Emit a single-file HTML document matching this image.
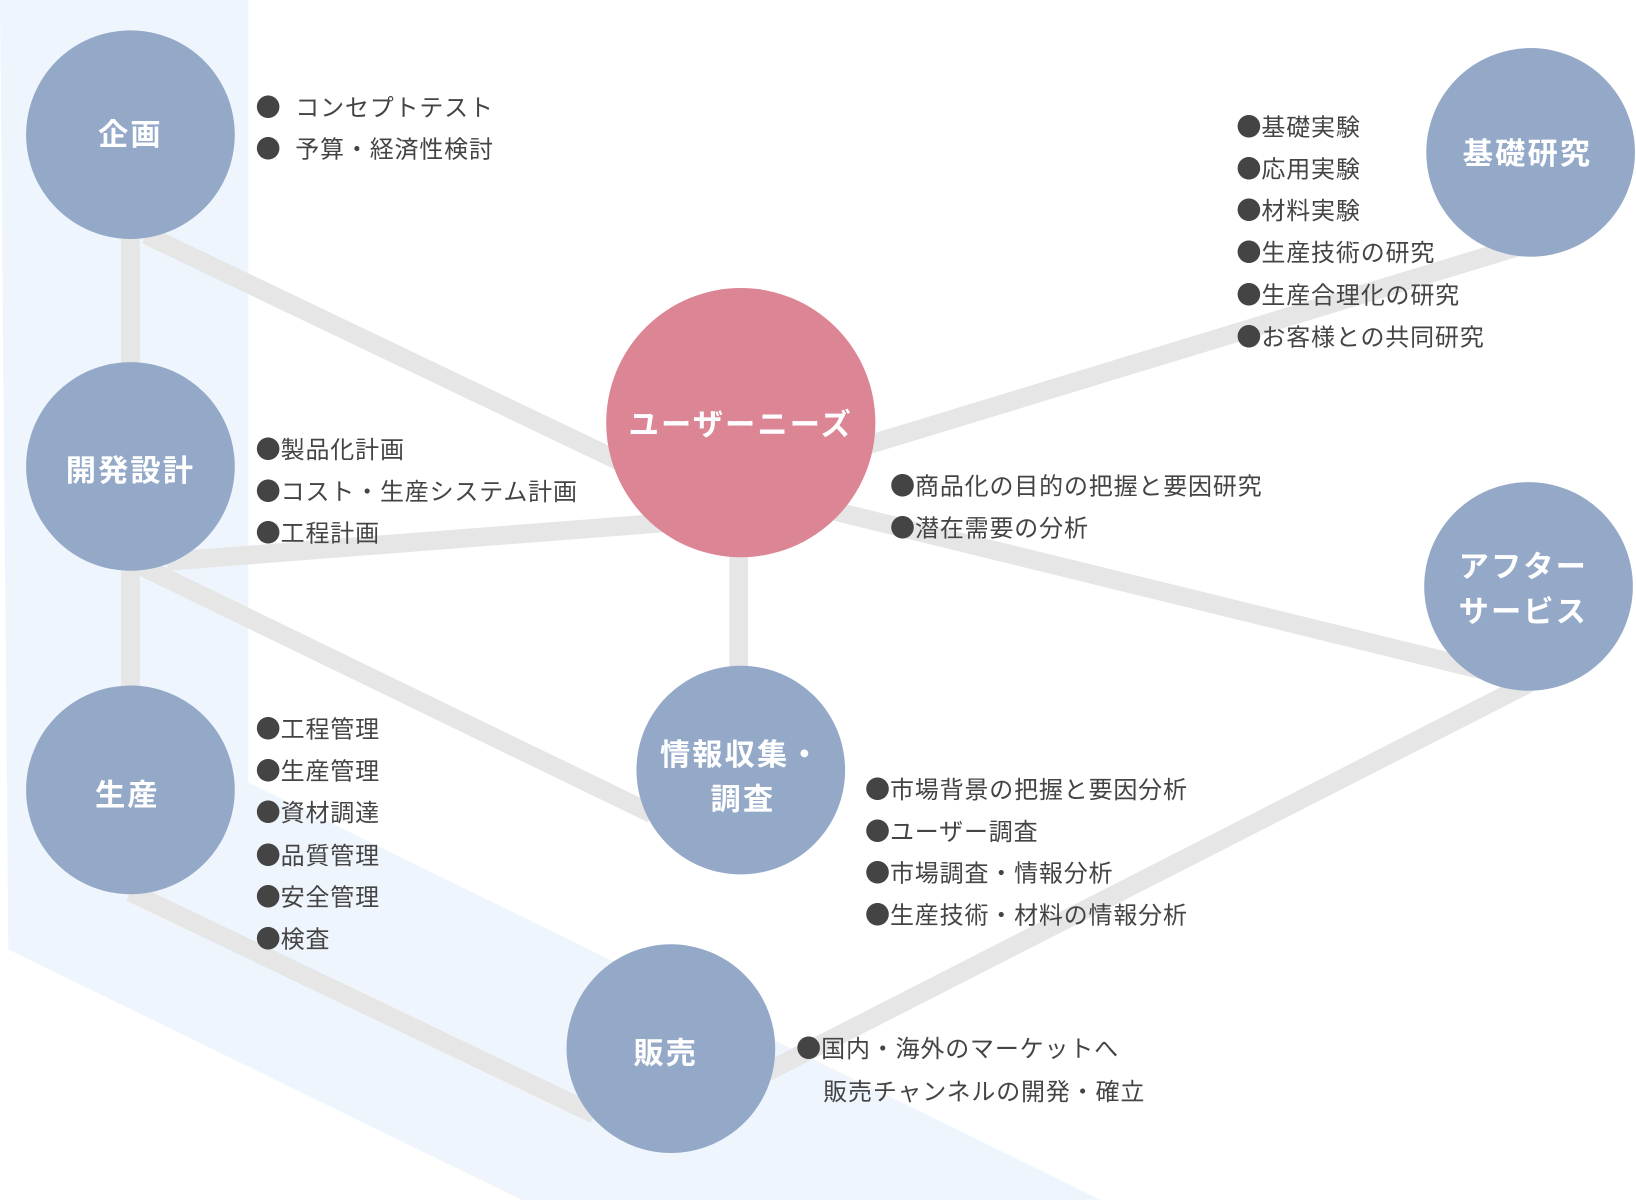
<!DOCTYPE html>
<html><head><meta charset="utf-8"><style>
html,body{margin:0;padding:0;background:#fff;}
svg{display:block}
.t{font-family:"Liberation Sans","Noto Sans CJK JP",sans-serif;font-size:23px;fill:#444;letter-spacing:0.8px;}
.t tspan.b{font-family:"Noto Sans CJK JP",sans-serif;font-size:24px;letter-spacing:0;}
.c{font-family:"Liberation Sans","Noto Sans CJK JP",sans-serif;font-size:29px;font-weight:bold;fill:#fff;letter-spacing:2px;}
</style></head><body>
<svg width="1636" height="1200" viewBox="0 0 1568 1150" xmlns="http://www.w3.org/2000/svg">
<polygon points="0,0 238,0 238,750 1055,1150 500,1150 8,910" fill="#eff5fc"/>
<g stroke="#e6e6e6" stroke-width="18" fill="none">
<line x1="125" y1="129" x2="125" y2="757"/>
<line x1="140" y1="225" x2="600" y2="445"/>
<line x1="160" y1="538" x2="650" y2="500"/>
<line x1="130" y1="540" x2="625" y2="780"/>
<line x1="125" y1="855" x2="570" y2="1068"/>
<line x1="708" y1="405" x2="708" y2="738"/>
<line x1="820" y1="430" x2="1460" y2="235"/>
<line x1="780" y1="485" x2="1420" y2="642"/>
<line x1="720" y1="1035" x2="1465" y2="655"/>
</g>
<g fill="#94a9c8">
<circle cx="125" cy="129" r="100"/>
<circle cx="125" cy="447" r="100"/>
<circle cx="125" cy="757" r="100"/>
<circle cx="643" cy="1005" r="100"/>
<circle cx="710" cy="738" r="100"/>
<circle cx="1467" cy="146" r="100"/>
<circle cx="1465" cy="562" r="100"/>
</g>
<circle cx="710" cy="405" r="129" fill="#dc8595"/>
<g class="c" text-anchor="middle">
<text x="125" y="139">企画</text>
<text x="125" y="461">開発設計</text>
<text x="122" y="772">生産</text>
<text x="638" y="1019">販売</text>
<text x="710" y="733">情報収集・</text>
<text x="712" y="776">調査</text>
<text x="710" y="417">ユーザーニーズ</text>
<text x="1464" y="157">基礎研究</text>
<text x="1460" y="553">アフター</text>
<text x="1460" y="596">サービス</text>
</g>
<g class="t">
<text x="245" y="111"><tspan class="b">●</tspan><tspan x="283">コンセプトテスト</tspan></text>
<text x="245" y="151"><tspan class="b">●</tspan><tspan x="283">予算・経済性検討</tspan></text>
<text x="1185" y="130"><tspan class="b">●</tspan>基礎実験</text>
<text x="1185" y="170"><tspan class="b">●</tspan>応用実験</text>
<text x="1185" y="210"><tspan class="b">●</tspan>材料実験</text>
<text x="1185" y="250"><tspan class="b">●</tspan>生産技術の研究</text>
<text x="1185" y="291"><tspan class="b">●</tspan>生産合理化の研究</text>
<text x="1185" y="331"><tspan class="b">●</tspan>お客様との共同研究</text>
<text x="245" y="439"><tspan class="b">●</tspan>製品化計画</text>
<text x="245" y="479"><tspan class="b">●</tspan>コスト・生産システム計画</text>
<text x="245" y="519"><tspan class="b">●</tspan>工程計画</text>
<text x="853" y="474"><tspan class="b">●</tspan>商品化の目的の把握と要因研究</text>
<text x="853" y="514"><tspan class="b">●</tspan>潜在需要の分析</text>
<text x="245" y="707"><tspan class="b">●</tspan>工程管理</text>
<text x="245" y="747"><tspan class="b">●</tspan>生産管理</text>
<text x="245" y="787"><tspan class="b">●</tspan>資材調達</text>
<text x="245" y="828"><tspan class="b">●</tspan>品質管理</text>
<text x="245" y="868"><tspan class="b">●</tspan>安全管理</text>
<text x="245" y="908"><tspan class="b">●</tspan>検査</text>
<text x="829" y="765"><tspan class="b">●</tspan>市場背景の把握と要因分析</text>
<text x="829" y="805"><tspan class="b">●</tspan>ユーザー調査</text>
<text x="829" y="845"><tspan class="b">●</tspan>市場調査・情報分析</text>
<text x="829" y="885"><tspan class="b">●</tspan>生産技術・材料の情報分析</text>
<text x="763" y="1013"><tspan class="b">●</tspan>国内・海外のマーケットへ</text>
<text x="789" y="1054">販売チャンネルの開発・確立</text>
</g>
</svg>
</body></html>
